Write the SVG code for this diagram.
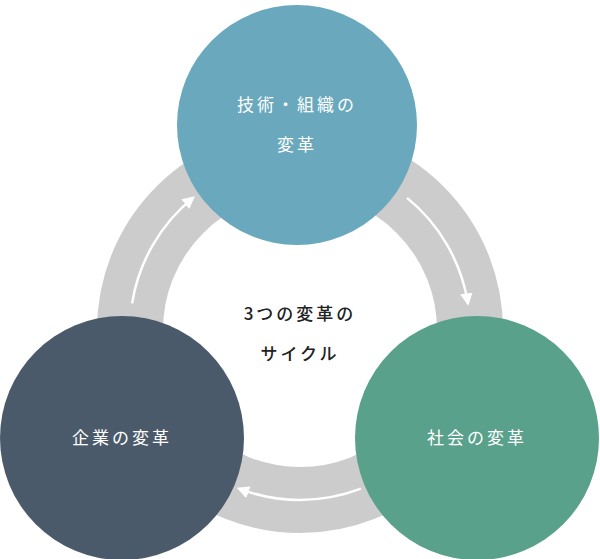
<svg xmlns="http://www.w3.org/2000/svg" width="600" height="559" viewBox="0 0 600 559">
<style>
.t{font-family:"Noto Sans CJK JP",sans-serif;font-size:17px;fill:#fff;text-anchor:middle;letter-spacing:3px}
.c{font-family:"Noto Sans CJK JP",sans-serif;font-size:17px;fill:#222;text-anchor:middle;letter-spacing:3px;font-weight:500}
.a{fill:none;stroke:#fff;stroke-width:2.5;marker-end:url(#h)}
</style>
<defs><marker id="h" viewBox="0 0 10 10" refX="8" refY="5" markerWidth="5" markerHeight="5" orient="auto" markerUnits="strokeWidth"><path d="M0,0L10,5L0,10z" fill="#fff"/></marker></defs>
<rect width="600" height="559" fill="#fff"/>
<g id="ring"><circle cx="300" cy="330" r="170" fill="none" stroke="#cccccc" stroke-width="66"/></g>
<g id="connectors">
<path class="a" d="M407,197.9 A170,170 0 0 1 467.9,303.4"/>
<path class="a" d="M360.9,488.7 A170,170 0 0 1 239.1,488.7"/>
<path class="a" d="M132.1,303.4 A170,170 0 0 1 193,197.9"/>
</g>
<g id="center"><text class="c" x="300" y="320">3つの変革の</text><text class="c" x="300" y="360">サイクル</text></g>
<g id="tech"><circle cx="297" cy="125" r="120" fill="#6aa8bd"/><text class="t" x="297" y="111">技術・組織の</text><text class="t" x="297" y="151">変革</text></g>
<g id="corp"><circle cx="122" cy="438" r="122" fill="#4b5a6a"/><text class="t" x="122" y="444">企業の変革</text></g>
<g id="soc"><circle cx="477" cy="438" r="122" fill="#5aa18c"/><text class="t" x="477" y="444">社会の変革</text></g>
</svg>
